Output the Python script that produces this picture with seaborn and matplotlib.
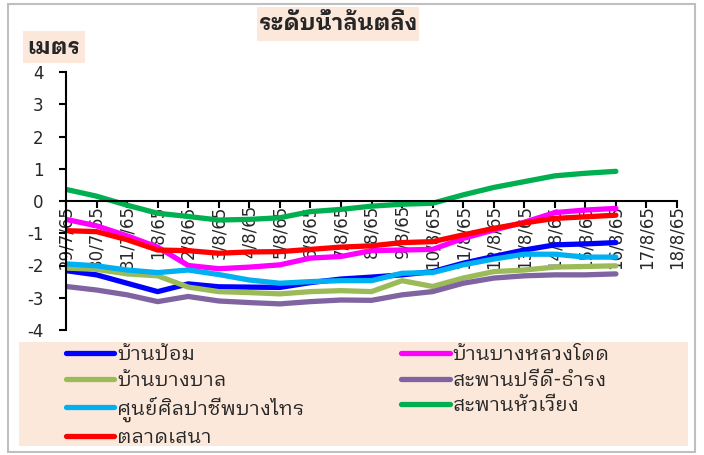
import numpy as np
import pandas as pd
import matplotlib
matplotlib.use("Agg")
import matplotlib.pyplot as plt
import seaborn as sns
from matplotlib.patches import Rectangle
from matplotlib.lines import Line2D

dates = ["29/7/65", "30/7/65", "31/7/65", "1/8/65", "2/8/65", "3/8/65", "4/8/65",
         "5/8/65", "6/8/65", "7/8/65", "8/8/65", "9/8/65", "10/8/65", "11/8/65",
         "12/8/65", "13/8/65", "14/8/65", "15/8/65", "16/8/65", "17/8/65", "18/8/65"]

ban_pom = [-2.16, -2.29, -2.55, -2.81, -2.57, -2.66, -2.67, -2.68, -2.53, -2.42, -2.36,
           -2.29, -2.19, -1.93, -1.72, -1.52, -1.36, -1.33, -1.29]
ban_bang_luang_dot = [-0.57, -0.77, -1.08, -1.43, -2.0, -2.1, -2.05, -1.98, -1.77, -1.72,
                      -1.54, -1.52, -1.5, -1.16, -0.9, -0.66, -0.36, -0.28, -0.23]
ban_bang_ban = [-2.08, -2.12, -2.26, -2.32, -2.67, -2.81, -2.84, -2.88, -2.81, -2.78, -2.81,
                -2.47, -2.65, -2.39, -2.19, -2.14, -2.05, -2.03, -2.01]
saphan_pridi = [-2.65, -2.76, -2.91, -3.12, -2.96, -3.1, -3.15, -3.19, -3.12, -3.07, -3.08,
                -2.91, -2.81, -2.55, -2.39, -2.32, -2.29, -2.29, -2.26]
sun_silapachip = [-1.95, -2.01, -2.14, -2.22, -2.14, -2.28, -2.45, -2.55, -2.5, -2.47, -2.47,
                  -2.24, -2.22, -1.98, -1.8, -1.65, -1.65, -1.74, -1.74]
saphan_hua_wiang = [0.36, 0.15, -0.13, -0.38, -0.48, -0.59, -0.57, -0.52, -0.33, -0.26, -0.16,
                    -0.1, -0.07, 0.19, 0.42, 0.6, 0.78, 0.86, 0.92]
talat_sena = [-0.92, -0.95, -1.2, -1.52, -1.54, -1.62, -1.58, -1.57, -1.5, -1.43, -1.39,
              -1.29, -1.26, -1.05, -0.85, -0.68, -0.54, -0.49, -0.44]

names = ["บ้านป้อม", "บ้านบางหลวงโดด", "บ้านบางบาล", "สะพานปรีดี-ธำรง",
         "ศูนย์ศิลปาชีพบางไทร", "สะพานหัวเวียง", "ตลาดเสนา"]
series = [ban_pom, ban_bang_luang_dot, ban_bang_ban, saphan_pridi,
          sun_silapachip, saphan_hua_wiang, talat_sena]
colors = ["#0000FF", "#FF00FF", "#9BBB59", "#8064A2", "#00B0F0", "#00B050", "#FF0000"]

sns.set_theme(style="white")
THAI = "IBM Plex Sans Thai Looped"
plt.rcParams["font.family"] = [THAI, "DejaVu Sans"]

rows = []
for n, s in zip(names, series):
    for i, d in enumerate(dates):
        rows.append({"date": d, "x": i, "station": n, "level": s[i] if i < len(s) else np.nan})
df = pd.DataFrame(rows)

W, H = 704, 455
fig = plt.figure(figsize=(W / 100, H / 100), dpi=100)
ax = fig.add_axes([66 / W, 1 - 330 / H, (677 - 66) / W, (330 - 72) / H])

sns.lineplot(data=df, x="x", y="level", hue="station", hue_order=names,
             palette=colors, linewidth=3.8, ax=ax, legend=False, sort=False)

ax.spines["top"].set_visible(False)
ax.spines["right"].set_visible(False)
ax.spines["bottom"].set_position(("data", 0))
for sp in ("left", "bottom"):
    ax.spines[sp].set_linewidth(1.5)
    ax.spines[sp].set_color("black")

ax.set_xlim(0, len(dates) - 1)
ax.set_ylim(-4, 4)
ax.set_yticks(range(-4, 5))
ax.set_yticklabels([str(v) for v in range(-4, 5)], family="DejaVu Sans", fontsize=12)
ax.set_xticks(range(len(dates)))
ax.set_xticklabels(dates, rotation=90, va="top", ha="center", fontsize=12, family="DejaVu Sans")
ax.tick_params(axis="y", length=5, width=1.5, direction="out", color="black", pad=11, left=True)
ax.tick_params(axis="x", length=5, width=1.5, direction="out", color="black", pad=-2, bottom=True)
ax.set_xlabel("")
ax.set_ylabel("")
ax.set_facecolor("none")

peach = "#FCE8DA"
fig.patches.append(Rectangle((8 / W, 1 - 452 / H), (695 - 8) / W, (452 - 4) / H,
                             transform=fig.transFigure, fill=False, edgecolor="#BFBFBF", lw=1.5))
fig.patches.append(Rectangle((257 / W, 1 - 41 / H), (419 - 257) / W, (41 - 7) / H,
                             transform=fig.transFigure, facecolor=peach, edgecolor="none"))
fig.text(338 / W, 1 - 24 / H, "ระดับน้ำล้นตลิ่ง", ha="center", va="center", fontsize=16,
         fontweight="bold")
fig.patches.append(Rectangle((23 / W, 1 - 63 / H), (85 - 23) / W, (63 - 31) / H,
                             transform=fig.transFigure, facecolor=peach, edgecolor="none"))
fig.text(54 / W, 1 - 47 / H, "เมตร", ha="center", va="center", fontsize=16,
         fontweight="bold")

fig.patches.append(Rectangle((19 / W, 1 - 446 / H), (688 - 19) / W, (446 - 342) / H,
                             transform=fig.transFigure, facecolor=peach, edgecolor="none", zorder=0))
order = [0, 2, 4, 6, 1, 3, 5]
handles = [Line2D([], [], color=colors[i], lw=3.8) for i in order]
labels = [names[i] for i in order]
fig.legend(handles, labels, ncol=2, loc="upper left", bbox_to_anchor=(66 / W, 1 - 345 / H),
           frameon=False, fontsize=14.5, handlelength=2.4, handletextpad=0.15,
           columnspacing=4.8, labelspacing=0.33, borderpad=0, borderaxespad=0)

fig.savefig("out.png", dpi=100)
